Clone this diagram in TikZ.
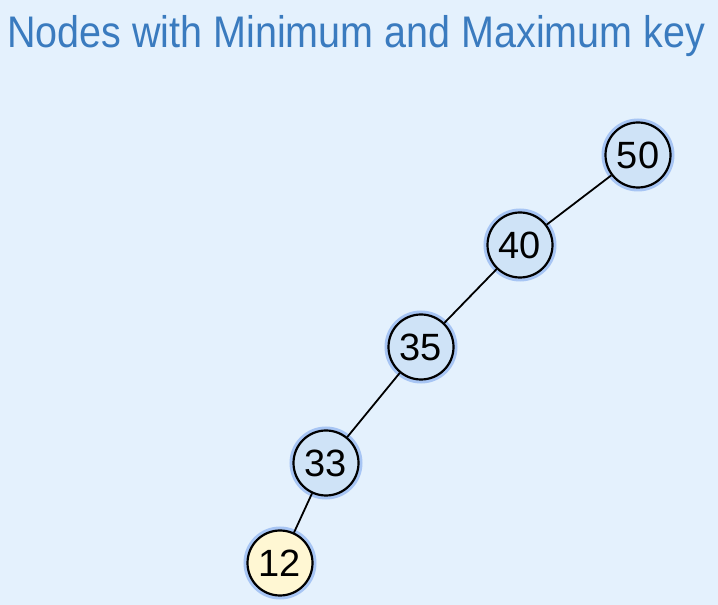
\documentclass[tikz,border=0pt]{standalone}
\usepackage{fontspec}
\setmainfont{Liberation Sans}
\definecolor{bgblue}{HTML}{E4F1FD}
\definecolor{titleblue}{HTML}{3A7BBF}
\definecolor{nodeblue}{HTML}{CFE3F7}
\definecolor{nodeyellow}{HTML}{FFF7D3}
\definecolor{glowblue}{HTML}{7FA8EE}
\tikzset{
  keynode/.style={circle, draw=black, line width=2.2pt, minimum size=65pt, inner sep=0pt,
    font=\fontsize{38}{38}\selectfont, text=black, fill=nodeblue,
    preaction={draw=glowblue, line width=8pt, opacity=0.6}},
  minnode/.style={keynode, fill=nodeyellow},
  edge/.style={draw=black, line width=1.8pt}
}
\begin{document}
\begin{tikzpicture}[x=1pt,y=1pt]
\fill[bgblue] (0,0) rectangle (718,605);
\useasboundingbox (0,0) rectangle (718,605);
\node[anchor=base west, text=titleblue, font=\fontsize{39.5}{40}\selectfont, yscale=1.12, inner sep=0pt] (title) at (7,557) {Nodes with Minimum and Maximum key};
\node[keynode] (n50) at (638,450) {50};
\node[keynode] (n40) at (520,360) {40};
\node[keynode] (n35) at (421,258) {35};
\node[keynode] (n33) at (326,142) {33};
\node[minnode] (n12) at (280,42) {12};
\draw[edge] (n50) -- (n40);
\draw[edge] (n40) -- (n35);
\draw[edge] (n35) -- (n33);
\draw[edge] (n33) -- (n12);
\end{tikzpicture}
\end{document}
